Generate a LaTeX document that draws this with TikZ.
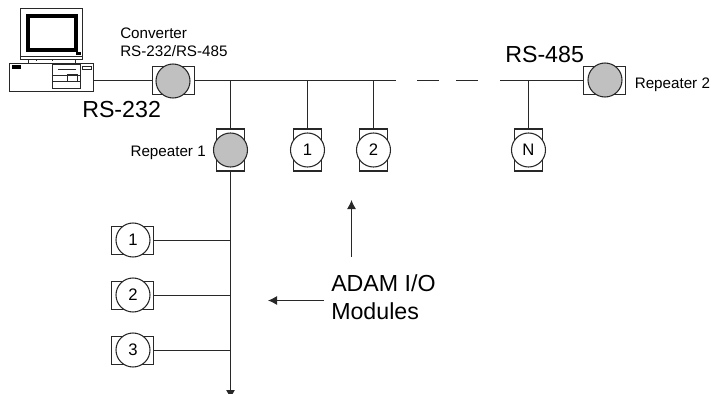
\documentclass[tikz,border=0pt]{standalone}
\usepackage{fontspec}
\setmainfont{Liberation Sans}
\usetikzlibrary{arrows.meta}
\definecolor{lgrey}{RGB}{192,192,192}
\definecolor{ink}{RGB}{40,40,40}
\tikzset{
  x=0.75pt,y=-0.75pt,
  wire/.style={draw=ink,line width=0.8pt},
  box/.style={draw=ink,fill=white,line width=0.8pt,minimum width=21pt,minimum height=31.5pt,inner sep=0pt,outer sep=0pt},
  hbox/.style={draw=ink,fill=white,line width=0.8pt,minimum width=31pt,minimum height=20.5pt,inner sep=0pt,outer sep=0pt},
  disc/.style={draw=ink,fill=white,circle,line width=0.8pt,minimum size=25.5pt,inner sep=0pt,font=\fontsize{12.5pt}{14pt}\selectfont},
  gdisc/.style={disc,fill=lgrey},
  small/.style={inner sep=0pt,font=\fontsize{11.4pt}{13.5pt}\selectfont,align=left},
  big/.style={inner sep=0pt,font=\fontsize{17.4pt}{21pt}\selectfont,align=left},
  arr/.style={wire,-{Latex[length=6.75pt,width=6.75pt]}},
  pcline/.style={line width=0.7pt,draw=ink}
}
\begin{document}
\begin{tikzpicture}
\useasboundingbox (0,0) rectangle (713,393);
% computer
\draw[pcline] (20,8) rectangle (82,59);
\draw[pcline] (20,56)--(82,56);
\draw[line width=3pt,draw=black] (28,16) rectangle (75.5,49.5);
\fill[black] (76,52) rectangle (81,55);
\draw[pcline] (28,59)--(28,63) (36,59)--(36,61) (52,59)--(52,61) (75,59)--(75,63);
\node[draw=ink,line width=0.7pt,minimum width=63pt,minimum height=21pt,inner sep=0pt,outer sep=0pt] (pc) at (51,77) {};
\fill[black] (12,65) rectangle (21,68.5);
\draw[pcline] (52,64) rectangle (80,88);
\draw[pcline] (52,75)--(80,75) (52,81)--(80,81) (58,69)--(76,69);
\draw[pcline] (67,74) rectangle (77,81);
\draw[pcline] (82,66) rectangle (91,69);
% named places
\coordinate (bus1) at (230.5,80.5);
\coordinate (bus2) at (307.5,80.5);
\coordinate (bus3) at (373.5,80.5);
\coordinate (busE) at (396,80.5);
\coordinate (d1a) at (417,80.5);
\coordinate (d1b) at (439,80.5);
\coordinate (d2a) at (456,80.5);
\coordinate (d2b) at (478,80.5);
\coordinate (busS) at (500,80.5);
\coordinate (busN) at (528.5,80.5);
\coordinate (t1) at (230.5,240.5);
\coordinate (t2) at (230.5,295.5);
\coordinate (t3) at (230.5,350.5);
\coordinate (endv) at (230.5,399);
\coordinate (a1s) at (324,300.5);
\coordinate (a1e) at (268,300.5);
\coordinate (a2s) at (351.5,257);
\coordinate (a2e) at (351.5,200);
% wires under shapes
\node[hbox] (cb) at (173.5,80.5) {};
\node[hbox] (r2b) at (604.5,80.5) {};
\node[box] (r1b) at (230.5,150) {};
\node[box] (m1b) at (307.5,150) {};
\node[box] (m2b) at (373.5,150) {};
\node[box] (mNb) at (528.5,150) {};
\node[hbox] (l1b) at (132.5,240.5) {};
\node[hbox] (l2b) at (132.5,295.5) {};
\node[hbox] (l3b) at (132.5,350.5) {};
\node[gdisc] (cd) at (173,81) {};
\node[gdisc] (r2d) at (605,80) {};
\node[gdisc] (r1d) at (230.5,150) {};
\node[disc] (m1d) at (307.5,150) {1};
\node[disc] (m2d) at (373.5,150) {2};
\node[disc] (mNd) at (528.5,150) {N};
\node[disc] (l1d) at (133,240) {1};
\node[disc] (l2d) at (133,295) {2};
\node[disc] (l3d) at (133,350) {3};
\draw[wire] (pc.east |- cb.west) -- (cb.west);
\draw[wire] (cb.east) -- (busE);
\draw[wire] (d1a) -- (d1b);
\draw[wire] (d2a) -- (d2b);
\draw[wire] (busS) -- (r2b.west);
\draw[wire] (bus1) -- (r1b.north);
\draw[wire] (bus2) -- (m1b.north);
\draw[wire] (bus3) -- (m2b.north);
\draw[wire] (busN) -- (mNb.north);
\draw[wire,-{Latex[length=6.75pt,width=6.75pt]}] (r1b.south) -- (endv);
\draw[wire] (l1b.east) -- (t1);
\draw[wire] (l2b.east) -- (t2);
\draw[wire] (l3b.east) -- (t3);
\draw[arr] (a1s) -- (a1e);
\draw[arr] (a2s) -- (a2e);
% labels
\node[small,anchor=north west] (lc) at (120,28) {Converter\\RS-232/RS-485};
\node[big,anchor=base west] (l232) at (82,117) {RS-232};
\node[big,anchor=base west] (l485) at (505,62) {RS-485};
\node[small,anchor=base east] (lr1) at (206,156) {Repeater 1};
\node[small,anchor=base west] (lr2) at (634.5,88) {Repeater 2};
\node[big,anchor=north west] (lad) at (331,274) {ADAM I/O\\Modules};
\end{tikzpicture}
\end{document}
